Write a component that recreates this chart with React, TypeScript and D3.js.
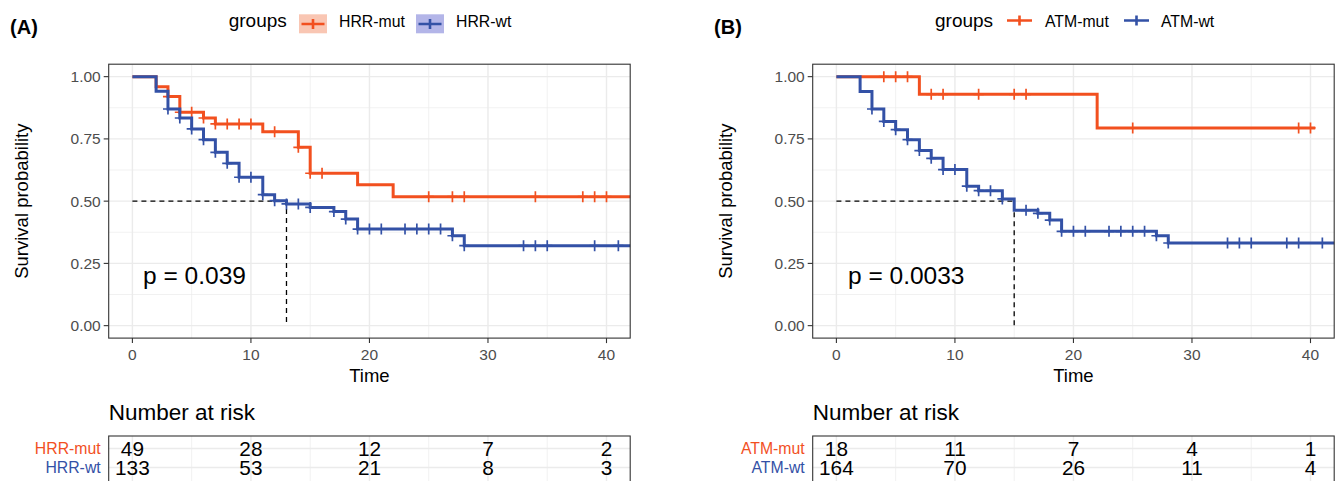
import React from 'react';
import * as d3 from 'd3';

// time axis + survival axis
const xBreaks = [0, 10, 20, 30, 40];
const xMinor = [5, 15, 25, 35];
const yBreaks = [0, 0.25, 0.5, 0.75, 1];
const yMinor = [0.125, 0.375, 0.625, 0.875];

// panel A: HRR
const hrrGroups = ['HRR-mut', 'HRR-wt'];
const hrrMutTime = [0, 2, 3, 4, 6, 7, 11, 14, 15, 19, 22];
const hrrMutSurv = [1, 0.959, 0.92, 0.857, 0.834, 0.81, 0.779, 0.716, 0.612, 0.566, 0.518];
const hrrMutCensor = [3, 4, 5, 6, 7, 8, 9, 10, 12, 14, 15, 16, 25, 27, 28, 34, 38, 39, 40];
const hrrWtTime = [0, 2, 3, 4, 5, 6, 7, 8, 9, 11, 12, 13, 15, 17, 18, 19, 27, 28];
const hrrWtSurv = [1, 0.941, 0.87, 0.834, 0.79, 0.747, 0.696, 0.652, 0.596, 0.526, 0.502, 0.489, 0.475, 0.458, 0.428, 0.388, 0.361, 0.321];
const hrrWtCensor = [3, 4, 5, 6, 7, 8, 9, 10, 11, 12, 13, 14, 15, 17, 18, 19, 20, 21, 23, 24, 25, 26, 27, 28, 33, 34, 35, 39, 41];
const hrrMutRisk = [49, 28, 12, 7, 2];
const hrrWtRisk = [133, 53, 21, 8, 3];

// panel B: ATM
const atmGroups = ['ATM-mut', 'ATM-wt'];
const atmMutTime = [0, 7, 22];
const atmMutSurv = [1, 0.929, 0.794];
const atmMutCensor = [4, 5, 6, 8, 9, 12, 15, 16, 25, 39, 40];
const atmWtTime = [0, 2, 3, 4, 5, 6, 7, 8, 9, 11, 12, 14, 15, 17, 18, 19, 27, 28];
const atmWtSurv = [1, 0.94, 0.87, 0.82, 0.787, 0.747, 0.703, 0.672, 0.627, 0.56, 0.542, 0.509, 0.463, 0.451, 0.424, 0.379, 0.361, 0.332];
const atmWtCensor = [3, 4, 5, 6, 7, 8, 9, 10, 11, 12, 13, 14, 16, 17, 18, 19, 20, 21, 23, 24, 25, 26, 27, 28, 33, 34, 35, 38, 39, 41];
const atmMutRisk = [18, 11, 7, 4, 1];
const atmWtRisk = [164, 70, 26, 11, 4];

const ORANGE = '#F2501F';
const BLUE = '#3351A6';
const FONT = 'Liberation Sans, Arial, Helvetica, sans-serif';
const GRID = '#EBEBEB';
const TICK = '#4D4D4D';

const panelW = 521.5;
const top = 64.2;
const bottom = 338.1;

const survAt = (times, surv, t) => {
  let s = surv[0];
  times.forEach((tt, i) => { if (tt <= t) s = surv[i]; });
  return s;
};

const Curve = ({ x, y, times, surv, censor, end, color }) => {
  const pts = times.map((t, i) => [t, surv[i]]);
  pts.push([end, surv[surv.length - 1]]);
  const line = d3.line().x(d => x(d[0])).y(d => y(d[1])).curve(d3.curveStepAfter);
  return (
    <g>
      <path d={line(pts)} fill="none" stroke={color} strokeWidth={3} />
      {censor.map((t, i) => {
        const cx = x(t);
        const cy = y(survAt(times, surv, t));
        return (
          <path key={i} d={`M${cx - 5},${cy}h10M${cx},${cy - 5.5}v11`} stroke={color} strokeWidth={1.7} />
        );
      })}
    </g>
  );
};

const Panel = ({ left, tag, groups, series, median, pText, risk, legend }) => {
  const x = d3.scaleLinear().domain([-2, 42]).range([left, left + panelW]);
  const y = d3.scaleLinear().domain([-0.05, 1.05]).range([bottom, top]);
  const clipId = 'clip' + tag;
  const colors = [ORANGE, BLUE];
  const tblTop = 436;
  const tblBottom = 500;
  const rowY = [448.5, 467.5];
  return (
    <g fontFamily={FONT}>
      <text x={left - 98.7} y={34} fontSize={20} fontWeight="bold">({tag})</text>

      {/* legend */}
      <text x={legend.title} y={27} fontSize={19}>groups</text>
      {groups.map((g, i) => (
        <g key={g}>
          {legend.fill && (
            <rect x={legend.keys[i]} y={14.3} width={28} height={19} fill={legend.fill[i]} />
          )}
          <path
            d={`M${legend.keys[i] + (legend.fill ? 2.5 : 0)},${legend.lineY}h${legend.fill ? 23 : 25}M${legend.keys[i] + (legend.fill ? 14 : 12.5)},${legend.lineY - 5}v10`}
            stroke={colors[i]} strokeWidth={2.6} fill="none" />
          <text x={legend.labels[i]} y={26.5} fontSize={15.8}>{g}</text>
        </g>
      ))}

      {/* grid */}
      {xMinor.map(v => <line key={'xm' + v} x1={x(v)} x2={x(v)} y1={top} y2={bottom} stroke={GRID} strokeWidth={0.7} />)}
      {yMinor.map(v => <line key={'ym' + v} x1={left} x2={left + panelW} y1={y(v)} y2={y(v)} stroke={GRID} strokeWidth={0.7} />)}
      {xBreaks.map(v => <line key={'x' + v} x1={x(v)} x2={x(v)} y1={top} y2={bottom} stroke={GRID} strokeWidth={1.4} />)}
      {yBreaks.map(v => <line key={'y' + v} x1={left} x2={left + panelW} y1={y(v)} y2={y(v)} stroke={GRID} strokeWidth={1.4} />)}

      <clipPath id={clipId}>
        <rect x={left} y={top} width={panelW} height={bottom - top} />
      </clipPath>

      {/* median lines */}
      <path d={`M${x(0)},${y(0.5)}H${x(median)}V${y(0)}`} fill="none" stroke="#000" strokeWidth={1.3} strokeDasharray="5,4" />

      <g clipPath={`url(#${clipId})`}>
        {series.map((s, i) => (
          <Curve key={i} x={x} y={y} {...s} color={colors[i]} />
        ))}
      </g>

      <text x={x(pText.x)} y={y(pText.y)} fontSize={24.5}>{pText.label}</text>

      <rect x={left} y={top} width={panelW} height={bottom - top} fill="none" stroke="#333333" strokeWidth={1.1} />

      {/* axes */}
      {yBreaks.map(v => (
        <g key={'yt' + v}>
          <line x1={left - 5} x2={left} y1={y(v)} y2={y(v)} stroke="#333333" strokeWidth={1.1} />
          <text x={left - 8} y={y(v) + 5.5} fontSize={15.5} fill={TICK} textAnchor="end">{v.toFixed(2)}</text>
        </g>
      ))}
      {xBreaks.map(v => (
        <g key={'xt' + v}>
          <line x1={x(v)} x2={x(v)} y1={bottom} y2={bottom + 5} stroke="#333333" strokeWidth={1.1} />
          <text x={x(v)} y={360} fontSize={15.5} fill={TICK} textAnchor="middle">{v}</text>
        </g>
      ))}
      <text x={x(20)} y={381.5} fontSize={18.5} textAnchor="middle">Time</text>
      <text transform={`translate(${left - 80.5},${(top + bottom) / 2}) rotate(-90)`} fontSize={18.5} textAnchor="middle">Survival probability</text>

      {/* risk table */}
      <text x={left} y={420} fontSize={22.5}>Number at risk</text>
      {xMinor.map(v => <line key={'rm' + v} x1={x(v)} x2={x(v)} y1={tblTop} y2={tblBottom} stroke={GRID} strokeWidth={0.7} />)}
      {xBreaks.map(v => <line key={'rx' + v} x1={x(v)} x2={x(v)} y1={tblTop} y2={tblBottom} stroke={GRID} strokeWidth={1.4} />)}
      {rowY.map(ry => <line key={'ry' + ry} x1={left} x2={left + panelW} y1={ry} y2={ry} stroke={GRID} strokeWidth={1.4} />)}
      <rect x={left} y={tblTop} width={panelW} height={tblBottom - tblTop} fill="none" stroke="#333333" strokeWidth={1.1} />
      {risk.map((row, r) => (
        <g key={'risk' + r}>
          <text x={left - 8} y={rowY[r] + 5.5} fontSize={15.8} fill={colors[r]} textAnchor="end">{groups[r]}</text>
          {row.map((n, i) => (
            <text key={i} x={x(xBreaks[i])} y={rowY[r] + 7.5} fontSize={20.8} textAnchor="middle">{n}</text>
          ))}
        </g>
      ))}
    </g>
  );
};

const App = () => (
  <svg width={1338} height={481} style={{ position: 'absolute', left: 0, top: 0, background: '#fff' }}>
    <rect width={1338} height={481} fill="#fff" />
    <Panel
      left={108.7}
      tag="A"
      groups={hrrGroups}
      series={[
        { times: hrrMutTime, surv: hrrMutSurv, censor: hrrMutCensor, end: 45 },
        { times: hrrWtTime, surv: hrrWtSurv, censor: hrrWtCensor, end: 45 },
      ]}
      median={13}
      pText={{ x: 0.9, y: 0.167, label: 'p = 0.039' }}
      risk={[hrrMutRisk, hrrWtRisk]}
      legend={{ title: 228.7, keys: [299, 416], labels: [339, 456], lineY: 24, fill: ['#F9C6B3', '#B3B5E8'] }}
    />
    <Panel
      left={812.7}
      tag="B"
      groups={atmGroups}
      series={[
        { times: atmMutTime, surv: atmMutSurv, censor: atmMutCensor, end: 40.4 },
        { times: atmWtTime, surv: atmWtSurv, censor: atmWtCensor, end: 45 },
      ]}
      median={15}
      pText={{ x: 0.98, y: 0.167, label: 'p = 0.0033' }}
      risk={[atmMutRisk, atmWtRisk]}
      legend={{ title: 935, keys: [1007, 1124], labels: [1045, 1161], lineY: 20.5, fill: null }}
    />
  </svg>
);

export default App;
